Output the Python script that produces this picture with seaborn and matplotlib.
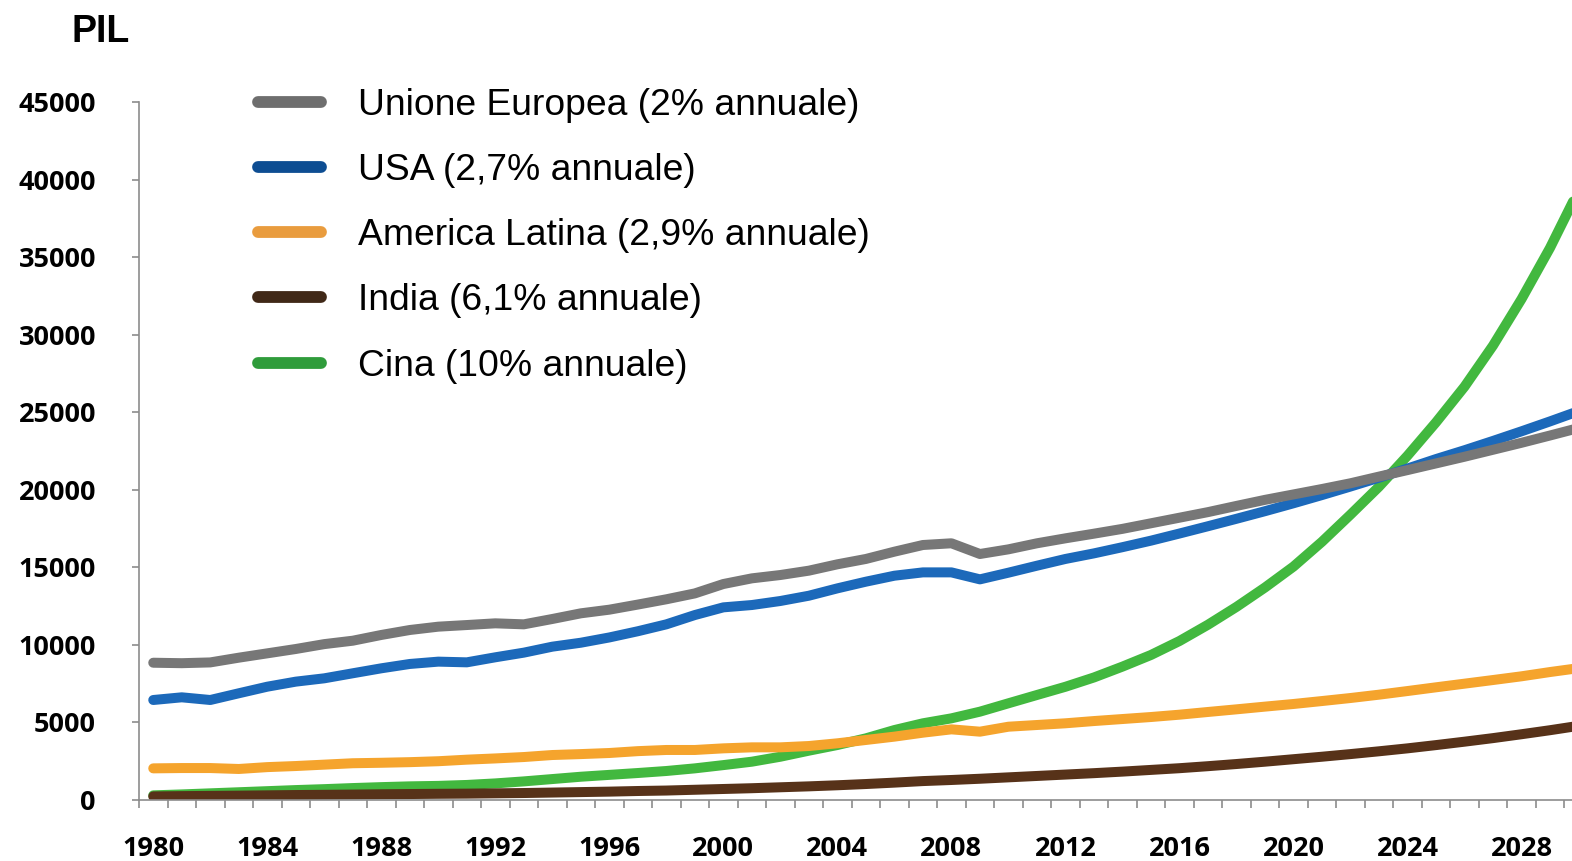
import numpy as np
import pandas as pd
import matplotlib
matplotlib.use("Agg")
import matplotlib.pyplot as plt
from matplotlib.lines import Line2D
import seaborn as sns

# ------------------------------------------------------------
# DATA (PIL)
# ------------------------------------------------------------
years = list(range(1980, 2031))

ue = [8850, 8820, 8870, 9175, 9455, 9735, 10050, 10270, 10640, 10960,
      11175, 11280, 11390, 11325, 11670, 12035, 12270, 12600, 12940, 13320,
      13925, 14290, 14505, 14785, 15195, 15540, 16010, 16440, 16550, 15860,
      16160, 16550, 16870, 17170, 17480, 17840, 18200, 18560, 18960, 19350,
      19700, 20050, 20420, 20850, 21270, 21700, 22130, 22580, 23030, 23500,
      23980]

usa = [6447, 6620, 6447, 6880, 7305, 7630, 7845, 8170, 8490, 8770,
       8920, 8875, 9200, 9500, 9885, 10140, 10480, 10880, 11325, 11925,
       12420, 12570, 12830, 13170, 13645, 14075, 14460, 14675, 14675, 14225,
       14655, 15105, 15540, 15900, 16300, 16720, 17180, 17650, 18130, 18620,
       19130, 19660, 20210, 20780, 21370, 21980, 22550, 23150, 23770, 24410,
       25070]

america_latina = [2040, 2060, 2060, 2000, 2120, 2190, 2280, 2370, 2400, 2440,
                  2500, 2600, 2680, 2770, 2900, 2960, 3030, 3150, 3225, 3225,
                  3330, 3395, 3395, 3480, 3655, 3870, 4085, 4340, 4555, 4405,
                  4725, 4835, 4945, 5090, 5220, 5350, 5500, 5675, 5845, 6020,
                  6190, 6380, 6575, 6790, 7025, 7265, 7500, 7735, 7975, 8250,
                  8500]

india = [230, 250, 265, 280, 300, 320, 335, 350, 370, 385,
         400, 410, 430, 450, 480, 510, 540, 580, 610, 660,
         710, 760, 820, 880, 950, 1030, 1120, 1220, 1290, 1370,
         1460, 1550, 1640, 1730, 1830, 1940, 2050, 2180, 2320, 2470,
         2630, 2790, 2960, 3140, 3330, 3540, 3760, 3990, 4240, 4500,
         4780]

cina = [300, 360, 430, 500, 570, 640, 700, 770, 830, 880,
        910, 970, 1070, 1200, 1350, 1500, 1620, 1740, 1870, 2040,
        2250, 2470, 2790, 3180, 3545, 3975, 4510, 4945, 5265, 5695,
        6235, 6770, 7300, 7900, 8600, 9350, 10250, 11300, 12450, 13700,
        15050, 16650, 18400, 20200, 22200, 24350, 26650, 29300, 32300, 35600,
        39300]

series_names = ["Unione Europea (2% annuale)", "USA (2,7% annuale)",
                "America Latina (2,9% annuale)", "India (6,1% annuale)",
                "Cina (10% annuale)"]
series_values = [ue, usa, america_latina, india, cina]
line_colors = ["#777777", "#1c69ba", "#f5a42d", "#573219", "#42b83f"]
legend_colors = ["#6e6e6e", "#0d4d92", "#e99c3e", "#402817", "#2f9c3b"]

y_ticks = [0, 5000, 10000, 15000, 20000, 25000, 30000, 35000, 40000, 45000]
x_tick_years = list(range(1980, 2030, 4))

# ------------------------------------------------------------
# LONG FORMAT
# ------------------------------------------------------------
df = pd.concat([pd.DataFrame({"anno": years, "pil": vals, "serie": name})
                for name, vals in zip(series_names, series_values)],
               ignore_index=True)

# ------------------------------------------------------------
# PLOT
# ------------------------------------------------------------
sns.set_theme(style="white")
plt.rcParams["font.family"] = ["Liberation Sans", "DejaVu Sans"]

W, H = 1572, 861
fig = plt.figure(figsize=(W / 100, H / 100), dpi=100)
ax = fig.add_axes([139 / W, 1 - 800 / H, 1 - 139 / W, (800 - 102) / H])

palette = dict(zip(series_names, line_colors))
sns.lineplot(data=df, x="anno", y="pil", hue="serie",
             hue_order=series_names[::-1], palette=palette,
             linewidth=7.2, legend=False, ax=ax, sort=False)
for ln in ax.get_lines():
    ln.set_solid_capstyle("round")
    ln.set_solid_joinstyle("round")

ax.set_xlim(1979.5, 2029.77)
ax.set_ylim(0, 45000)
ax.set_xlabel("")
ax.set_ylabel("")

# axes / ticks
for side in ["top", "right"]:
    ax.spines[side].set_visible(False)
for side in ["left", "bottom"]:
    ax.spines[side].set_color("#8c8c8c")
    ax.spines[side].set_linewidth(1.2)

ax.set_yticks(y_ticks)
ax.set_yticklabels([str(v) for v in y_ticks])
ax.set_xticks(x_tick_years)
ax.set_xticklabels([str(y) for y in x_tick_years])
ax.set_xticks([y - 0.5 for y in years], minor=True)

ax.tick_params(axis="y", which="major", length=5, width=1.2, color="#8c8c8c",
               direction="out", pad=26, left=True)
ax.tick_params(axis="x", which="major", length=0, pad=26, bottom=True)
ax.tick_params(axis="x", which="minor", length=6, width=1.2, color="#8c8c8c",
               direction="out", bottom=True)
for lab in ax.get_yticklabels() + ax.get_xticklabels():
    lab.set_fontfamily("Open Sans")
    lab.set_fontweight("bold")
    lab.set_fontsize(19.5)
    lab.set_color("black")
ax.grid(False)

fig.text(72 / W, 1 - 42 / H, "PIL", fontsize=27, fontweight="bold",
         ha="left", va="baseline", color="black")

handles = [Line2D([0], [0], color=c, linewidth=8.5, solid_capstyle="round")
           for c in legend_colors]
leg = ax.legend(handles, series_names, loc="upper left",
                bbox_to_anchor=(258 / W, 1 - 88 / H),
                bbox_transform=fig.transFigure,
                frameon=False, fontsize=26.8, handlelength=1.7,
                handletextpad=1.0, labelspacing=0.81, borderpad=0,
                borderaxespad=0)
for t in leg.get_texts():
    t.set_color("black")

fig.savefig("out.png", dpi=100, facecolor="white")
